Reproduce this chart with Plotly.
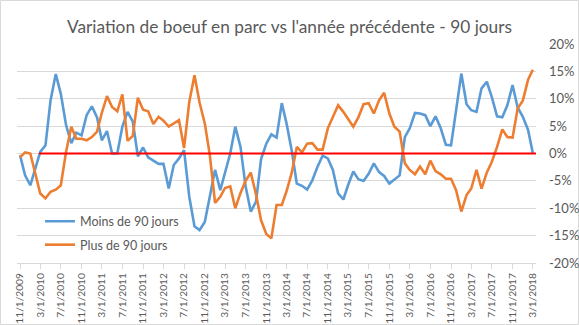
import pandas as pd
import plotly.graph_objects as go

dates = pd.date_range("2009-11-01", "2018-03-01", freq="MS")

moins_90 = [
    -0.3, -4.0, -5.8, -2.6, 0.3, 1.5, 9.7, 14.5, 10.9, 5.2,
    1.9, 3.8, 3.3, 7.0, 8.6, 6.6, 2.4, 4.1, 0.0, 0.0,
    4.9, 7.6, 5.8, -0.5, 1.1, -0.7, -1.3, -1.9, -1.9, -6.4,
    -2.1, -0.9, 0.6, -7.9, -13.3, -14.0, -12.5, -8.0, -3.0, -6.7,
    -3.6, 0.0, 4.9, 1.2, -6.0, -10.6, -8.8, -1.0, 1.8, 3.5,
    2.9, 9.2, 5.5, 0.5, -5.5, -5.9, -6.6, -4.9, -2.4, -0.4,
    -0.9, -3.0, -7.3, -8.4, -5.8, -3.3, -4.7, -5.0, -3.7, -1.8,
    -3.4, -4.1, -5.5, -4.7, -4.0, 3.0, 4.6, 7.4, 7.3, 7.0,
    5.0, 6.8, 4.6, 1.6, 1.5, 7.9, 14.6, 9.0, 7.9, 7.6,
    11.9, 13.1, 10.3, 6.8, 6.6, 8.8, 12.5, 8.4, 6.7, 4.3,
    0.1,
]

plus_90 = [
    -0.7, 0.2, 0.0, -3.7, -7.3, -8.2, -7.0, -6.6, -5.8, 0.3,
    4.9, 2.7, 2.7, 2.4, 3.0, 4.0, 7.4, 10.5, 8.5, 7.7,
    10.8, 2.3, 3.2, 10.2, 8.0, 7.7, 5.4, 6.7, 6.0, 4.9,
    5.5, 6.1, 1.0, 9.4, 14.3, 9.3, 5.5, -0.3, -9.0, -7.9,
    -6.3, -6.0, -10.0, -7.2, -5.0, -3.5, -7.5, -12.2, -14.7, -15.5,
    -9.4, -9.4, -6.9, -3.5, 1.2, 0.2, 1.8, 1.9, 0.7, 0.7,
    4.6, 6.6, 8.8, 7.6, 6.4, 4.9, 6.6, 9.0, 9.2, 7.3,
    9.7, 11.1, 7.3, 4.9, 4.0, -1.8, -3.0, -3.8, -2.4, -3.8,
    -1.3, -3.2, -3.8, -4.6, -4.6, -6.7, -10.6, -7.6, -6.4, -3.0,
    -6.4, -3.5, -1.5, 1.2, 4.4, 3.0, 2.9, 8.2, 9.7, 13.5,
    15.3,
]

tick_dates = dates[::4]
tick_labels = [f"{d.month}/{d.day}/{d.year}" for d in tick_dates]
y_ticks = [-20, -15, -10, -5, 0, 5, 10, 15, 20]
y_labels = [f"{v}%" for v in y_ticks]

zero_start = "2010-02-22"
zero_end = "2018-03-20"

FONT = "Lato"
GREY = "#595959"
BLUE = "#5B9BD5"
ORANGE = "#ED7D31"

fig = go.Figure()
fig.add_trace(go.Scatter(x=dates, y=moins_90, mode="lines", name="Moins de 90 jours",
                         line=dict(color=BLUE, width=2.6), legend="legend"))
fig.add_trace(go.Scatter(x=dates, y=plus_90, mode="lines", name="Plus de 90 jours",
                         line=dict(color=ORANGE, width=2.6), legend="legend2"))
fig.add_trace(go.Scatter(x=[zero_start, zero_end], y=[0, 0], mode="lines",
                         line=dict(color="#FF0000", width=2), showlegend=False,
                         hoverinfo="skip", cliponaxis=False))

fig.update_layout(
    width=579, height=325,
    margin=dict(l=17, r=43, t=44, b=62, autoexpand=False),
    paper_bgcolor="white", plot_bgcolor="white",
    font=dict(family=FONT, color=GREY, size=12),
    title=dict(text="Variation de boeuf en parc vs l'année précédente - 90 jours",
               x=0.5, xref="container", xanchor="center",
               y=1 - 27 / 325, yref="container", yanchor="middle",
               font=dict(family=FONT, size=17.3, color=GREY)),
    xaxis=dict(
        type="date", automargin=False,
        range=["2009-10-14", "2018-03-20"],
        tickvals=list(tick_dates), ticktext=tick_labels,
        tickangle=-90, tickfont=dict(size=10.2, color=GREY),
        showgrid=False, zeroline=False,
        showline=True, linecolor="#D9D9D9", linewidth=1,
        ticks="outside", ticklen=5, tickcolor="#D9D9D9",
    ),
    yaxis=dict(
        range=[-20, 20], side="right", automargin=False,
        tickvals=y_ticks, ticktext=y_labels,
        tickfont=dict(size=13, color=GREY),
        showgrid=True, gridcolor="#D9D9D9", gridwidth=1,
        zeroline=False, showline=False, ticks="",
        ticklabelstandoff=12,
    ),
    legend=dict(x=0.0443, y=0.189, xanchor="left", yanchor="middle",
                bgcolor="rgba(0,0,0,0)", font=dict(size=12.5, color=GREY)),
    legend2=dict(x=0.0443, y=0.082, xanchor="left", yanchor="middle",
                 bgcolor="rgba(0,0,0,0)", font=dict(size=12.5, color=GREY)),
    shapes=[dict(type="rect", xref="paper", yref="paper",
                 x0=-16.5 / 519, x1=(579 - 17.5) / 519,
                 y0=-61.5 / 219, y1=(219 + 43.5) / 219,
                 line=dict(color="#D9D9D9", width=1), layer="below")],
    showlegend=True,
)

fig.write_html("out.html")
